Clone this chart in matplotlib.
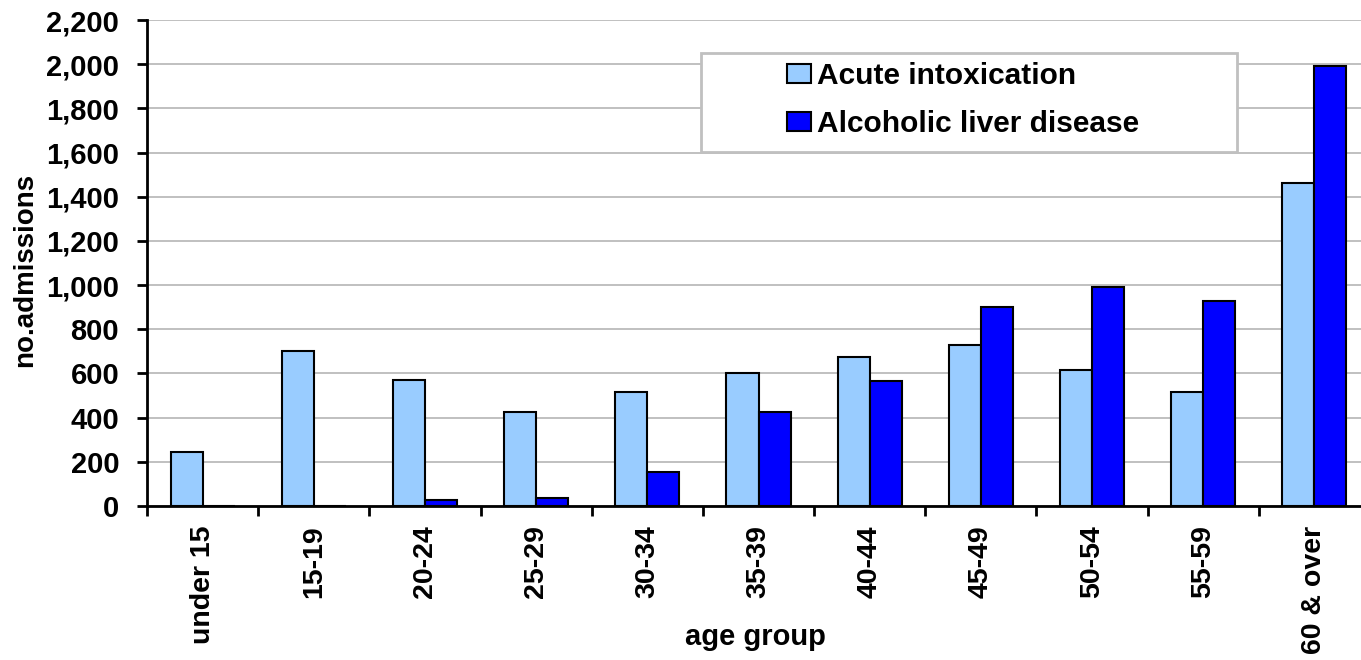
import matplotlib
matplotlib.use("Agg")
import matplotlib.pyplot as plt
from matplotlib.patches import Rectangle
from matplotlib.ticker import FuncFormatter
import numpy as np

# --- Krankenhausaufnahmen nach Altersgruppe ---
age_groups = ["under 15", "15-19", "20-24", "25-29", "30-34", "35-39",
              "40-44", "45-49", "50-54", "55-59", "60 & over"]
acute = [245, 700, 572, 427, 518, 600, 673, 727, 617, 518, 1464]
liver = [0, 0, 29, 36, 155, 427, 564, 900, 991, 927, 1993]
y_ticks = list(range(0, 2201, 200))

plt.rcParams["font.family"] = ["Liberation Sans", "DejaVu Sans"]
plt.rcParams["font.weight"] = "bold"

fig = plt.figure(figsize=(13.61, 6.6), dpi=100)
# Plotbereich laeuft rechts etwas ueber den Bildrand hinaus (wie im Original)
ax = fig.add_axes([147 / 1361, 154 / 660, 1223 / 1361, 486 / 660])

x = np.arange(len(age_groups))
w = 0.288
ax.bar(x - w / 2, acute, w, color="#99CCFF", edgecolor="black", lw=1.5,
       label="Acute intoxication", zorder=3)
ax.bar(x + w / 2, liver, w, color="#0000FF", edgecolor="black", lw=1.5,
       label="Alcoholic liver disease", zorder=3)

ax.set_xlim(-0.5, len(age_groups) - 0.5)
ax.set_ylim(0, 2200)
ax.set_yticks(y_ticks)
ax.yaxis.set_major_formatter(FuncFormatter(lambda v, p: f"{int(v):,}"))
ax.grid(axis="y", color="#c0c0c0", lw=1.4, zorder=0)

ax.set_xticks(x)
ax.set_xticklabels(age_groups, rotation=90, fontsize=20.5)
ax.set_xticks(np.arange(-0.5, len(age_groups) + 0.5, 1), minor=True)
ax.tick_params(axis="x", which="major", length=0, pad=14)
ax.tick_params(axis="x", which="minor", length=7, width=2, direction="out")
ax.tick_params(axis="y", length=7, width=2, direction="out", labelsize=21, pad=13)

for s in ["top", "right"]:
    ax.spines[s].set_visible(False)
for s in ["left", "bottom"]:
    ax.spines[s].set_linewidth(2)

fig.text(25 / 1361, 1 - 270 / 660, "no.admissions", rotation=90,
         ha="center", va="center", fontsize=20)
fig.text(755 / 1361, 1 - 637 / 660, "age group", ha="center", va="center", fontsize=21)

# Legende: fester grauer Rahmen, Inhalt ohne eigenen Rahmen
fig.patches.append(Rectangle((701 / 1361, 1 - 152 / 660), 536 / 1361, 99 / 660,
                             transform=fig.transFigure, facecolor="white",
                             edgecolor="#c0c0c0", lw=2, zorder=5))
leg = fig.legend(loc="upper left", bbox_to_anchor=(760 / 1361, 1 - 35 / 660),
                 frameon=False, fontsize=21.5, handlelength=0.8, handleheight=0.6,
                 handletextpad=0.2, labelspacing=0.68)
leg.set_zorder(6)

fig.savefig("out.png", dpi=100)
